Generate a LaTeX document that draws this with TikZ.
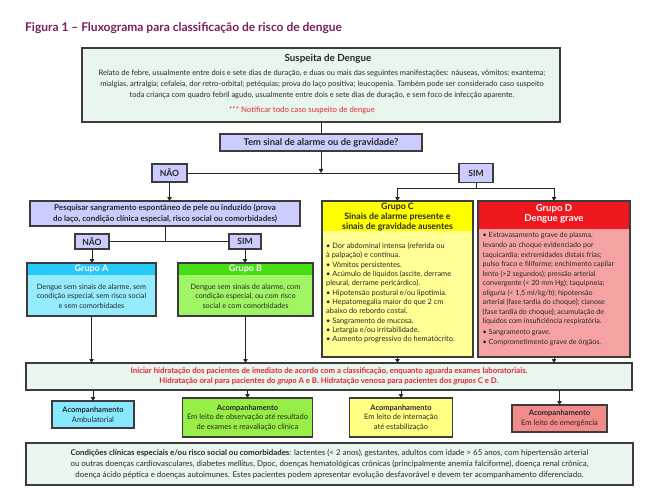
\documentclass[tikz,border=0pt]{standalone}
\usepackage{fontspec}
\setmainfont{Lato}
\usetikzlibrary{arrows.meta,calc}
\definecolor{mint}{RGB}{232,246,238}
\definecolor{bordc}{RGB}{60,60,60}
\definecolor{lav}{RGB}{204,204,255}
\definecolor{ttl}{RGB}{122,30,94}
\definecolor{redt}{RGB}{228,38,48}
\definecolor{txtc}{RGB}{40,40,40}
\definecolor{cyh}{RGB}{40,200,250}
\definecolor{cyb}{RGB}{150,236,255}
\definecolor{grh}{RGB}{70,222,20}
\definecolor{grb}{RGB}{160,245,100}
\definecolor{yeh}{RGB}{255,255,0}
\definecolor{yeb}{RGB}{255,255,150}
\definecolor{rdh}{RGB}{238,24,30}
\definecolor{rdb}{RGB}{245,162,162}
\definecolor{cyB}{RGB}{135,232,255}
\definecolor{grB}{RGB}{150,238,70}
\definecolor{yeB}{RGB}{255,255,130}
\definecolor{rdB}{RGB}{242,138,138}
\tikzset{
  bord/.style={draw=bordc, line width=1.2pt},
  plain/.style={inner sep=0pt, outer sep=0pt},
  box/.style={plain, bord},
  conn/.style={line width=0.9pt, draw=black!85},
  arr/.style={conn, -{Triangle[length=4pt,width=4.5pt]}},
  txt/.style={inner sep=0pt, text=txtc, align=center, font=\fontsize{7.5}{11}\selectfont},
  btxt/.style={inner sep=0pt, text=txtc, align=center, font=\bfseries\fontsize{8}{10.5}\selectfont},
  ltxt/.style={inner sep=0pt, text=txtc, align=left, font=\fontsize{7.3}{9.4}\selectfont},
}
\begin{document}
\begin{tikzpicture}[x=1pt,y=-1pt]
\useasboundingbox[fill=white] (0,0) rectangle (656,492);

% title
\node[inner sep=0pt, anchor=west, text=ttl, font=\bfseries\fontsize{12}{14}\selectfont] (title) at (25,28) {Figura 1 – Fluxograma para classificação de risco de dengue};

% top box
\node[box, fill=mint, minimum width=478, minimum height=74] (top) at (321,85) {};
\node[btxt, font=\bfseries\fontsize{9.8}{11}\selectfont] (topT) at (328,59) {Suspeita de Dengue};
\node[txt] (topB) at (322,84) {Relato de febre, usualmente entre dois e sete dias de duração, e duas ou mais das seguintes manifestações: náuseas, vômitos; exantema;\\
mialgias, artralgia; cefaleia, dor retro-orbital; petéquias; prova do laço positiva; leucopenia. Também pode ser considerado caso suspeito\\
toda criança com quadro febril agudo, usualmente entre dois e sete dias de duração, e sem foco de infecção aparente.};
\node[txt, text=redt, font=\fontsize{7.8}{11}\selectfont] (topR) at (302,110) {*** Notificar todo caso suspeito de dengue};

% question
\node[box, fill=lav, minimum width=202, minimum height=17] (q) at (321,142.5) {};
\node[btxt, font=\bfseries\fontsize{9.4}{10}\selectfont] (qT) at (q) {Tem sinal de alarme ou de gravidade?};

% NAO / SIM level 1
\node[box, fill=lav, minimum width=35, minimum height=18] (nao1) at (169.5,173) {};
\node[btxt, font=\bfseries\fontsize{8.6}{10}\selectfont] (nao1T) at (nao1) {NÃO};
\node[box, fill=lav, minimum width=34, minimum height=19] (sim1) at (476,173) {};
\node[btxt, font=\bfseries\fontsize{8.6}{10}\selectfont] (sim1T) at (sim1) {SIM};

% pesquisar
\node[box, fill=lav, minimum width=270, minimum height=25] (pq) at (165,213.5) {};
\node[btxt, font=\bfseries\fontsize{8}{10.5}\selectfont] (pqT) at (pq) {Pesquisar sangramento espontâneo de pele ou induzido (prova\\do laço, condição clínica especial, risco social ou comorbidades)};

% NAO / SIM level 2
\node[box, fill=lav, minimum width=34, minimum height=15] (nao2) at (92,241.5) {};
\node[btxt, font=\bfseries\fontsize{8.6}{10}\selectfont] (nao2T) at (nao2) {NÃO};
\node[box, fill=lav, minimum width=32, minimum height=15] (sim2) at (245,241.5) {};
\node[btxt, font=\bfseries\fontsize{8.6}{10}\selectfont] (sim2T) at (sim2) {SIM};

% Group A
\node[plain, fill=cyb, minimum width=129, minimum height=53] (gA) at (91.5,289.5) {};
\fill[cyh] (gA.north west) rectangle ($(gA.north east)+(0,11.5)$);
\draw[bord] (gA.north west) rectangle (gA.south east);
\node[btxt, text=white, font=\bfseries\fontsize{9}{10}\selectfont] (gAh) at (91.5,268.8) {Grupo A};
\node[txt, font=\fontsize{7.3}{9.6}\selectfont] (gAb) at (91.5,296) {Dengue sem sinais de alarme, sem\\condição especial, sem risco social\\e sem comorbidades};

% Group B
\node[plain, fill=grb, minimum width=135, minimum height=53] (gB) at (245.5,289.5) {};
\fill[grh] (gB.north west) rectangle ($(gB.north east)+(0,11.5)$);
\draw[bord] (gB.north west) rectangle (gB.south east);
\node[btxt, text=white, font=\bfseries\fontsize{9}{10}\selectfont] (gBh) at (245.5,268.8) {Grupo B};
\node[txt, font=\fontsize{7.3}{9.6}\selectfont] (gBb) at (245.5,296) {Dengue sem sinais de alarme, com\\condição especial, ou com risco\\social e com comorbidades};

% Group C
\node[plain, fill=yeb, minimum width=151, minimum height=156] (gC) at (397.5,279) {};
\fill[yeh] (gC.north west) rectangle ($(gC.north east)+(0,30)$);
\draw[bord] (gC.north west) rectangle (gC.south east);
\node[btxt, font=\bfseries\fontsize{8.8}{9.7}\selectfont] (gCh) at (397.5,217) {Grupo C\\Sinais de alarme presente e\\sinais de gravidade ausentes};
\node[ltxt, anchor=north west, font=\fontsize{7.4}{9.35}\selectfont] (gCb) at (326,242.5) {• Dor abdominal intensa (referida ou\\
à palpação) e contínua.\\
• Vômitos persistentes.\\
• Acúmulo de líquidos (ascite, derrame\\
pleural, derrame pericárdico).\\
• Hipotensão postural e/ou lipotimia.\\
• Hepatomegalia maior do que 2 cm\\
abaixo do rebordo costal.\\
• Sangramento de mucosa.\\
• Letargia e/ou irritabilidade.\\
• Aumento progressivo do hematócrito.};

% Group D
\node[plain, fill=rdb, minimum width=152, minimum height=156] (gD) at (554,279) {};
\fill[rdh] (gD.north west) rectangle ($(gD.north east)+(0,28)$);
\draw[bord] (gD.north west) rectangle (gD.south east);
\node[btxt, text=white, font=\bfseries\fontsize{9.6}{10.5}\selectfont] (gDh) at (554,214) {Grupo D\\Dengue grave};
\node[ltxt, anchor=north west, font=\fontsize{7.15}{9.55}\selectfont] (gDb) at (482.5,232.5) {• Extravasamento grave de plasma,\\
levando ao choque evidenciado por\\
taquicardia; extremidades distais frias;\\
pulso fraco e filiforme; enchimento capilar\\
lento (>2 segundos); pressão arterial\\
convergente (< 20 mm Hg); taquipneia;\\
oliguria (< 1,5 ml/kg/h); hipotensão\\
arterial (fase tardia do choque); cianose\\
(fase tardia do choque); acumulação de\\
líquidos com insuficiência respiratória.\\[1.5pt]
• Sangramento grave.\\
• Comprometimento grave de órgãos.};

% hydration
\node[box, fill=mint, minimum width=606, minimum height=27] (hyd) at (329,376.5) {};
\node[btxt, text=redt, font=\bfseries\fontsize{7.8}{10.5}\selectfont] (hydT) at (hyd) {Iniciar hidratação dos pacientes de imediato de acordo com a classificação, enquanto aguarda exames laboratoriais.\\Hidratação oral para pacientes do \textit{grupo} A e B. Hidratação venosa para pacientes dos \textit{grupos} C e D.};

% follow-up boxes
\node[box, fill=cyB, minimum width=82, minimum height=27] (bA) at (93,414.5) {};
\node[txt, font=\fontsize{7.5}{9.5}\selectfont] (bAT) at (bA) {\textbf{Acompanhamento}\\Ambulatorial};
\node[box, fill=grB, minimum width=130, minimum height=39] (bB) at (247.5,417.5) {};
\node[txt, font=\fontsize{7.5}{9.5}\selectfont] (bBT) at (bB) {\textbf{Acompanhamento}\\Em leito de observação até resultado\\de exames e reavaliação clínica};
\node[box, fill=yeB, minimum width=103, minimum height=39] (bC) at (401,417.5) {};
\node[txt, font=\fontsize{7.5}{9.5}\selectfont] (bCT) at (bC) {\textbf{Acompanhamento}\\Em leito de internação\\até estabilização};
\node[box, fill=rdB, minimum width=95, minimum height=27] (bD) at (559.5,418.5) {};
\node[txt, font=\fontsize{7.5}{9.5}\selectfont] (bDT) at (bD) {\textbf{Acompanhamento}\\Em leito de emergência};

% bottom box
\node[box, fill=mint, minimum width=607, minimum height=42] (bot) at (329.5,464) {};
\node[txt, font=\fontsize{7.9}{11}\selectfont] (botT) at (bot) {\textbf{Condições clínicas especiais e/ou risco social ou comorbidades}: lactentes (< 2 anos), gestantes, adultos com idade > 65 anos, com hipertensão arterial\\
ou outras doenças cardiovasculares, diabetes \textit{mellitus}, Dpoc, doenças hematológicas crônicas (principalmente anemia falciforme), doença renal crônica,\\
doença ácido péptica e doenças autoimunes. Estes pacientes podem apresentar evolução desfavorável e devem ter acompanhamento diferenciado.};

% connectors
\coordinate (j1) at (q.south |- nao1.east);
\coordinate (j2) at ($(sim1.south)+(0,6)$);
\coordinate (j3) at (pq.south |- nao2.east);
\draw[conn] (top.south) -- (q.north);
\draw[conn] (nao1.east) -- (sim1.west);
\draw[arr] (q.south) -- (j1);
\draw[arr] (nao1.south) -- (nao1.south |- pq.north);
\draw[conn] (sim1.south) -- (j2);
\draw[arr] (j2) -| (gC.north);
\draw[arr] (j2) -| (gD.north);
\draw[conn] (pq.south) -- (j3);
\draw[conn] (nao2.east) -- (sim2.west);
\draw[arr] (nao2.south) -- (nao2.south |- gA.north);
\draw[arr] (sim2.south) -- (sim2.south |- gB.north);
\draw[arr] (gA.south) -- (gA.south |- hyd.north);
\draw[arr] (gB.south) -- (gB.south |- hyd.north);
\draw[arr] (gC.south) -- (gC.south |- hyd.north);
\draw[arr] (gD.south) -- (gD.south |- hyd.north);
\draw[arr] (hyd.south -| bA.north) -- (bA.north);
\draw[arr] (hyd.south -| bB.north) -- (bB.north);
\draw[arr] (hyd.south -| bC.north) -- (bC.north);
\draw[arr] (hyd.south -| bD.north) -- (bD.north);
\end{tikzpicture}
\end{document}
